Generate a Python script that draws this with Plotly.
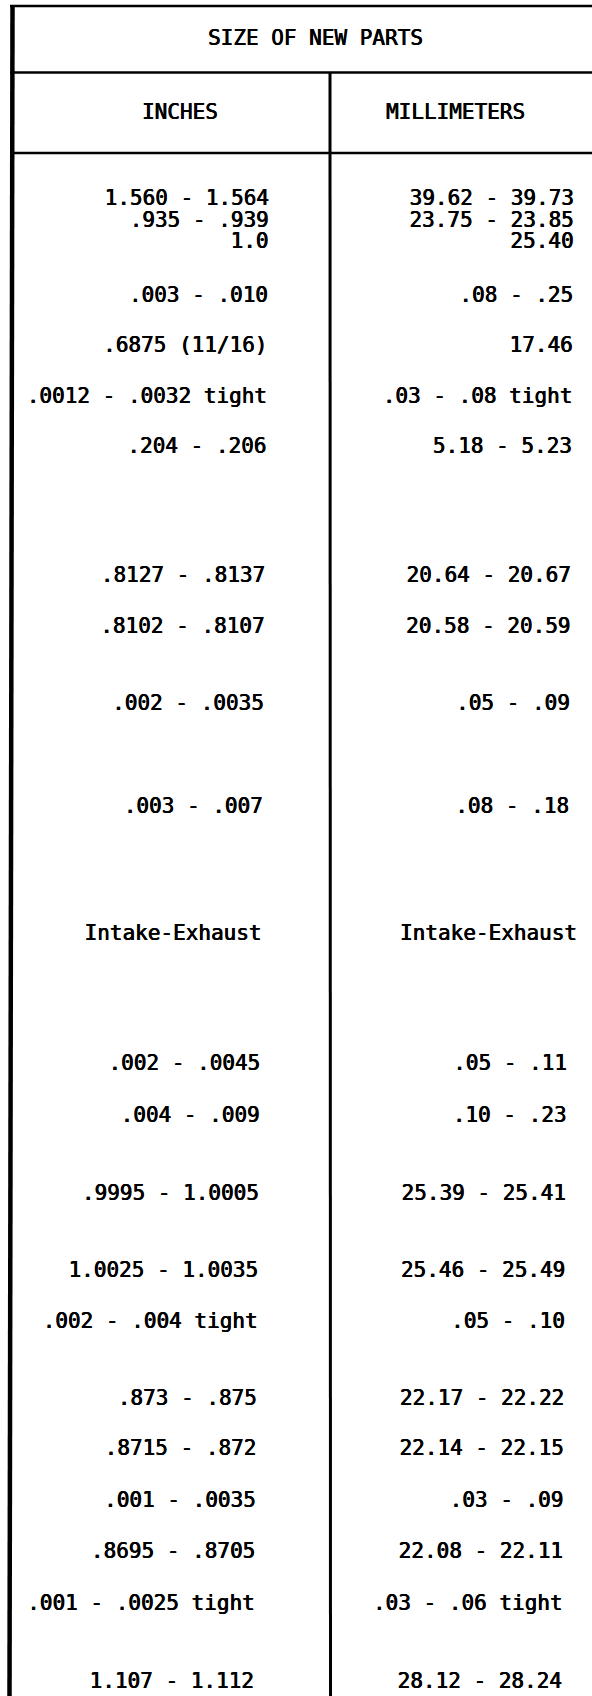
import plotly.graph_objects as go

# ---- table content ----
title_text = "SIZE OF NEW PARTS"
col_headers = ["INCHES", "MILLIMETERS"]

inches = [
    "1.560 - 1.564", ".935 - .939", "1.0",
    ".003 - .010", ".6875 (11/16)", ".0012 - .0032 tight", ".204 - .206",
    ".8127 - .8137", ".8102 - .8107", ".002 - .0035", ".003 - .007",
    "Intake-Exhaust",
    ".002 - .0045", ".004 - .009", ".9995 - 1.0005", "1.0025 - 1.0035",
    ".002 - .004 tight", ".873 - .875", ".8715 - .872", ".001 - .0035",
    ".8695 - .8705", ".001 - .0025 tight", "1.107 - 1.112",
]
millimeters = [
    "39.62 - 39.73", "23.75 - 23.85", "25.40",
    ".08 - .25", "17.46", ".03 - .08 tight", "5.18 - 5.23",
    "20.64 - 20.67", "20.58 - 20.59", ".05 - .09", ".08 - .18",
    "Intake-Exhaust",
    ".05 - .11", ".10 - .23", "25.39 - 25.41", "25.46 - 25.49",
    ".05 - .10", "22.17 - 22.22", "22.14 - 22.15", ".03 - .09",
    "22.08 - 22.11", ".03 - .06 tight", "28.12 - 28.24",
]
# vertical row positions (page units, top = 0)
row_y = [200, 222, 243, 297, 347, 398, 448, 577, 628, 705, 808, 935,
         1065, 1117, 1195, 1272, 1323, 1400, 1450, 1502, 1553, 1605, 1683]

W, H = 592, 1696
FONT = "DejaVu Sans Mono"
FS = 21
SHADOW = "0.4px 0px 0px #000, -0.3px 0px 0px #000"

# right-aligned text edges drift slightly (scan skew)
def left_edge(y):
    return 269 - (y - 200) / (1683 - 200) * 15

def right_edge(y):
    return 574 - (y - 200) / (1683 - 200) * 12

font = dict(family=FONT, size=FS, color="black", shadow=SHADOW)

in_x = [left_edge(y) for y in row_y]
mm_x = [right_edge(y) + (9 if t == "Intake-Exhaust" else 0)
        for y, t in zip(row_y, millimeters)]

fig = go.Figure()
fig.add_trace(go.Scatter(
    x=in_x, y=row_y, text=inches,
    mode="text", textposition="middle left", textfont=font,
    hoverinfo="skip", showlegend=False,
))
fig.add_trace(go.Scatter(
    x=mm_x, y=row_y, text=millimeters,
    mode="text", textposition="middle left", textfont=font,
    hoverinfo="skip", showlegend=False,
))

shapes = [
    dict(type="line", x0=10, x1=W + 5, y0=6, y1=6, line=dict(color="black", width=2.5)),
    dict(type="line", x0=10, x1=W + 5, y0=72.5, y1=72.5, line=dict(color="black", width=2.5)),
    dict(type="line", x0=10, x1=W + 5, y0=153, y1=153, line=dict(color="black", width=2.5)),
    dict(type="line", x0=12.5, x1=9.5, y0=5, y1=H + 5, line=dict(color="black", width=4.5)),
    dict(type="line", x0=330, x1=330.5, y0=72, y1=H + 5, line=dict(color="black", width=3)),
]
for s in shapes:
    s.update(xref="x", yref="y", layer="above")

annotations = [
    dict(x=315, y=38, text=title_text),
    dict(x=180, y=112, text=col_headers[0]),
    dict(x=455, y=112, text=col_headers[1]),
]
for a in annotations:
    a.update(xref="x", yref="y", showarrow=False, xanchor="center", yanchor="middle",
             font=font)

fig.update_layout(
    width=W, height=H,
    margin=dict(l=0, r=0, t=0, b=0),
    paper_bgcolor="white", plot_bgcolor="white",
    xaxis=dict(range=[0, W], visible=False, fixedrange=True),
    yaxis=dict(range=[H, 0], visible=False, fixedrange=True),
    shapes=shapes, annotations=annotations,
    hovermode=False,
)

fig.write_html(
    "out.html",
    config={"displayModeBar": False},
    post_script="document.body.style.margin='0';document.body.style.overflow='hidden';",
)
